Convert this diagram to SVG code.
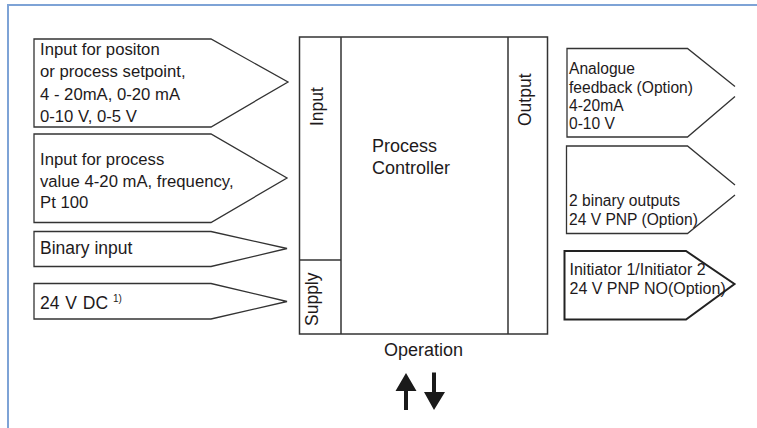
<svg xmlns="http://www.w3.org/2000/svg" width="757" height="428" viewBox="0 0 757 428">
<style>
.frame{fill:none;stroke:#7ea3d6;stroke-width:2}
.sh{fill:#fff;stroke:#333;stroke-width:1.3;stroke-linejoin:miter}
.sh2{fill:#fff;stroke:#222;stroke-width:2}
.ln{stroke:#333;stroke-width:1.5;fill:none}
text{font-family:"Liberation Sans",Arial,Helvetica,sans-serif;fill:#1e1a1b}
.l{font-size:16.7px}
.r{font-size:15.6px}
.c{font-size:18px}
.v{font-size:17.5px}
.sup{font-size:10px}
.arr{fill:#1a1a1a;stroke:none}
</style>
<rect width="757" height="428" fill="#fff"/>
<path class="frame" d="M8,428 V5 H757"/>

<g id="in-position">
<polygon class="sh" points="34,39 211,39 288,82 211,127 34,127"/>
<text class="l" x="40" y="55">Input for positon</text>
<text class="l" x="40" y="77">or process setpoint,</text>
<text class="l" x="40" y="99.5">4 - 20mA, 0-20 mA</text>
<text class="l" x="40" y="121.5">0-10 V, 0-5 V</text>
</g>
<g id="in-process">
<polygon class="sh" points="34,134 211,134 287,178 211,222.5 34,222.5"/>
<text class="l" x="40" y="165">Input for process</text>
<text class="l" x="40" y="187">value 4-20 mA, frequency,</text>
<text class="l" x="40" y="208">Pt 100</text>
</g>
<g id="in-binary">
<polygon class="sh" points="34,231.5 211,231.5 287,248.5 211,266.5 34,266.5"/>
<text class="l" x="40" y="253.5" style="font-size:17.5px">Binary input</text>
</g>
<g id="in-supply">
<polygon class="sh" points="34,283.5 211,283.5 287,301.5 211,319 34,319"/>
<text class="l" x="40" y="308.5" style="font-size:17.5px" word-spacing="1">24 V DC</text>
<text class="sup" x="113" y="302">1)</text>
</g>

<g id="controller">
<rect class="ln" x="299.5" y="37" width="248" height="297"/>
<line class="ln" x1="341" y1="37" x2="341" y2="334"/>
<line class="ln" x1="508" y1="37" x2="508" y2="334"/>
<line class="ln" x1="299.5" y1="260" x2="341" y2="260"/>
<text class="v" transform="translate(322.5,126) rotate(-90)">Input</text>
<text class="v" transform="translate(530.5,126) rotate(-90)">Output</text>
<text class="v" transform="translate(318,326) rotate(-90)">Supply</text>
<text class="c" x="372" y="151.7">Process</text>
<text class="c" x="372" y="174.3">Controller</text>
</g>

<g id="operation">
<text class="c" x="423.5" y="356" text-anchor="middle">Operation</text>
</g>

<g id="out-analogue">
<polyline class="sh" points="735,86.5 687.5,48.5 567,48.5 567,137 687.5,137 735,96.5"/>
<text class="r" x="569" y="74">Analogue</text>
<text class="r" x="569" y="92.7">feedback (Option)</text>
<text class="r" x="569" y="110.7">4-20mA</text>
<text class="r" x="569" y="129.3">0-10 V</text>
</g>
<g id="out-binary">
<polyline class="sh" points="735,185 687.5,146 566.5,146 566.5,233.5 687.5,233.5 735,195"/>
<text class="r" x="569" y="206">2 binary outputs</text>
<text class="r" x="569" y="225">24 V PNP (Option)</text>
</g>
<g id="out-initiator">
<polygon class="sh2" points="564.5,251 686,251 734.5,284 686,319.5 564.5,319.5"/>
<text class="r" x="569.5" y="275" style="font-size:16px">Initiator 1/Initiator 2</text>
<text class="r" x="569.5" y="294" style="font-size:16px">24 V PNP NO(Option)</text>
</g>

<g id="connectors">
<polygon class="arr" points="406,373 416.5,391 408,391 408,410 404,410 404,391 395.5,391"/>
<polygon class="arr" points="432,372.5 436,372.5 436,392 445,392 434,410 424,392 432,392"/>
</g>
</svg>
